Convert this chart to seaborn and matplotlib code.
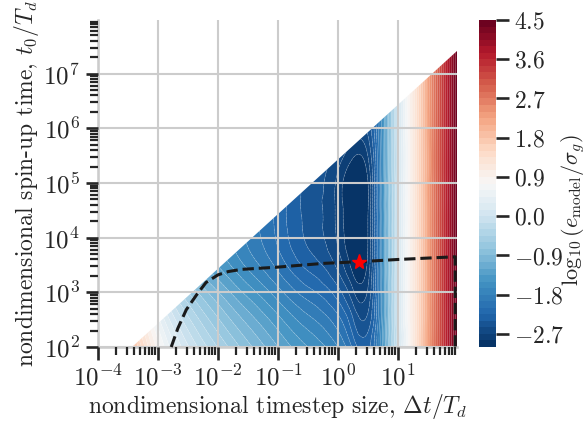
import numpy as np
import matplotlib
matplotlib.use("Agg")
import matplotlib.pyplot as plt
import matplotlib.tri as mtri
from matplotlib.patches import Polygon
from matplotlib.ticker import LogLocator, FuncFormatter, NullFormatter
import seaborn as sns

# ---------------- data ----------------
# nodes in log10(dt/Td) and log10(t0/Td)
log_dt_nodes = [-4.0, -3.5, -3.0, -2.5, -2.0, -1.5, -1.0, -0.5, 0.0, 0.25, 0.5,
                0.75, 1.0, 1.25, 1.5, 1.75, 2.0]
log_t0_nodes = [2.0, 2.5, 3.0, 3.5, 4.0, 4.5, 5.0, 6.0, 7.0, 8.0]
# log10(e_model / sigma_g), one row per t0 node
log_err_rows = [
    [3.40, 2.10, 0.82, 0.02, -0.46, -0.85, -1.20, -1.50, -1.80, -2.14, -2.30, -1.45, 0.05, 1.10, 2.25, 3.40, 4.55],
    [3.00, 1.70, 0.50, -0.26, -0.73, -1.11, -1.45, -1.75, -2.05, -2.39, -2.50, -1.47, 0.05, 1.10, 2.25, 3.40, 4.55],
    [2.50, 1.15, 0.08, -0.60, -1.04, -1.41, -1.74, -2.04, -2.34, -2.67, -2.67, -1.49, 0.05, 1.10, 2.25, 3.40, 4.55],
    [1.80, 0.45, -0.44, -1.00, -1.36, -1.69, -2.00, -2.30, -2.60, -2.92, -2.80, -1.49, 0.05, 1.10, 2.25, 3.40, 4.55],
    [0.82, -0.35, -0.94, -1.25, -1.52, -1.83, -2.13, -2.43, -2.73, -3.03, -2.84, -1.50, 0.05, 1.10, 2.25, 3.40, 4.55],
    [-0.05, -0.80, -1.08, -1.29, -1.55, -1.85, -2.15, -2.45, -2.75, -3.05, -2.85, -1.50, 0.05, 1.10, 2.25, 3.40, 4.55],
    [-0.55, -0.90, -1.10, -1.30, -1.55, -1.85, -2.15, -2.45, -2.75, -3.05, -2.85, -1.50, 0.05, 1.10, 2.25, 3.40, 4.55],
    [-0.60, -0.90, -1.10, -1.30, -1.55, -1.85, -2.15, -2.45, -2.45, -2.60, -2.50, -1.50, 0.05, 1.10, 2.25, 3.40, 4.55],
    [-0.60, -0.90, -1.10, -1.30, -1.55, -1.85, -2.15, -2.45, -2.30, -2.40, -2.30, -1.45, 0.05, 1.10, 2.25, 3.40, 4.55],
    [-0.60, -0.90, -1.10, -1.30, -1.55, -1.85, -2.15, -2.45, -2.30, -2.40, -2.30, -1.45, 0.05, 1.10, 2.25, 3.40, 4.55],
]
dt_max = 96.0            # largest timestep in the sweep
log_steps_max = 5.44     # log10 of the largest number of spin-up steps t0/dt

# dashed curve (log10 dt, log10 t0)
curve_log_dt = [-2.78, -2.67, -2.53, -2.36, -2.20, -2.00, -1.83, -1.61, -1.02, -0.80,
                -0.24, 0.35, 0.98, 1.94, 1.953, 1.953]
curve_log_t0 = [2.00, 2.34, 2.68, 2.95, 3.18, 3.32, 3.38, 3.42, 3.46, 3.48,
                3.53, 3.56, 3.60, 3.65, 3.65, 2.00]
star_dt = [2.25]
star_t0 = [3.6e3]

level_min, level_max, level_step = -3.0, 4.5, 0.15
cbar_ticks = [-2.7, -1.8, -0.9, 0.0, 0.9, 1.8, 2.7, 3.6, 4.5]

# ---------------- style ----------------
sns.set_theme(style="whitegrid", context="talk")
plt.rcParams.update({
    "font.family": ["cmr10", "DejaVu Serif"],
    "mathtext.fontset": "cm",
    "axes.formatter.use_mathtext": True,
    "axes.unicode_minus": True,
})

W, H = 587, 421
fig = plt.figure(figsize=(W / 100, H / 100), dpi=100)
ax = fig.add_axes([98 / W, 1 - 347 / H, (457 - 98) / W, (347 - 20) / H])
cax = fig.add_axes([479 / W, 1 - 347 / H, 17 / W, (347 - 20) / H])

# ---------------- field ----------------
nx, ny = len(log_dt_nodes), len(log_t0_nodes)
X, Y = np.meshgrid(log_dt_nodes, log_t0_nodes)
Z = np.array(log_err_rows)
tris = []
for j in range(ny - 1):
    for i in range(nx - 1):
        a = j * nx + i
        b, c, d = a + 1, a + nx, a + nx + 1
        tris.append([a, b, d])
        tris.append([a, d, c])
tri = mtri.Triangulation(X.ravel(), Y.ravel(), np.array(tris))
refiner = mtri.UniformTriRefiner(tri)
tri_f, z_f = refiner.refine_field(Z.ravel(), subdiv=4)
levels = np.arange(level_min, level_max + 1e-9, level_step)
z_f = np.clip(z_f, levels[0] + 1e-6, levels[-1] - 1e-6)
tri_plot = mtri.Triangulation(10 ** tri_f.x, 10 ** tri_f.y, tri_f.triangles)

cs = ax.tricontourf(tri_plot, z_f, levels=levels, cmap="RdBu_r", antialiased=True)
cl = ax.tricontour(tri_plot, z_f, levels=levels, colors="white", linewidths=0.5, alpha=0.22)

log_dt_max = np.log10(dt_max)
corner = 10 ** (2 - log_steps_max)
clip_poly = Polygon([(corner, 1e2), (dt_max, 1e2),
                     (dt_max, 10 ** (log_dt_max + log_steps_max))],
                    closed=True, transform=ax.transData, facecolor="none", edgecolor="none")
x_cut = 10 ** 0.65
line_poly = Polygon([(corner, 1e2), (x_cut, 1e2), (x_cut, x_cut * 10 ** log_steps_max)],
                    closed=True, transform=ax.transData, facecolor="none", edgecolor="none")
ax.add_patch(clip_poly)
ax.add_patch(line_poly)
cs.set_clip_path(clip_poly)
cl.set_clip_path(line_poly)

ax.plot(10 ** np.array(curve_log_dt), 10 ** np.array(curve_log_t0), color="k",
        ls="--", lw=2.2, zorder=4, clip_on=False)
ax.plot(star_dt, star_t0, marker="*", color="red", ms=11, ls="none", zorder=5)

# ---------------- axes ----------------
ax.set_xscale("log")
ax.set_yscale("log")
ax.set_xlim(1e-4, dt_max)
ax.set_ylim(1e2, 9.6e7)
ax.set_axisbelow(False)
ax.grid(True, which="major", color="0.8", lw=1.5)
ax.grid(False, which="minor")
sns.despine(ax=ax)

for axis in (ax.xaxis, ax.yaxis):
    axis.set_major_locator(LogLocator(base=10, numticks=30))
    axis.set_minor_locator(LogLocator(base=10, subs=np.arange(2, 10), numticks=200))
    axis.set_major_formatter(FuncFormatter(lambda v, p: r"$10^{%d}$" % int(round(np.log10(v)))))
    axis.set_minor_formatter(NullFormatter())
ax.tick_params(which="both", bottom=True, left=True, color="0.15", labelsize=18)
ax.tick_params(which="major", length=9, width=1.9, pad=4)
ax.tick_params(which="minor", length=6, width=1.6)

ax.set_xlabel(r"nondimensional timestep size, $\Delta t/T_d$", fontsize=17, color="0.15",
              labelpad=1)
ax.set_ylabel(r"nondimensional spin-up time, $t_0/T_d$", fontsize=17, color="0.15",
              labelpad=2)

# ---------------- colorbar ----------------
cb = fig.colorbar(cs, cax=cax, ticks=cbar_ticks)
cb.outline.set_visible(False)
cax.grid(False)
cax.yaxis.set_major_formatter(FuncFormatter(lambda v, p: r"$%.1f$" % v))
cax.tick_params(right=True, length=9, width=1.9, color="0.15", labelsize=17, pad=4)
cb.set_label(r"$\log_{10}(e_\mathrm{model}/\sigma_g)$", fontsize=16, color="0.15")
cax.yaxis.set_label_coords(4.72, 0.42)

fig.savefig("out.png", dpi=100)
